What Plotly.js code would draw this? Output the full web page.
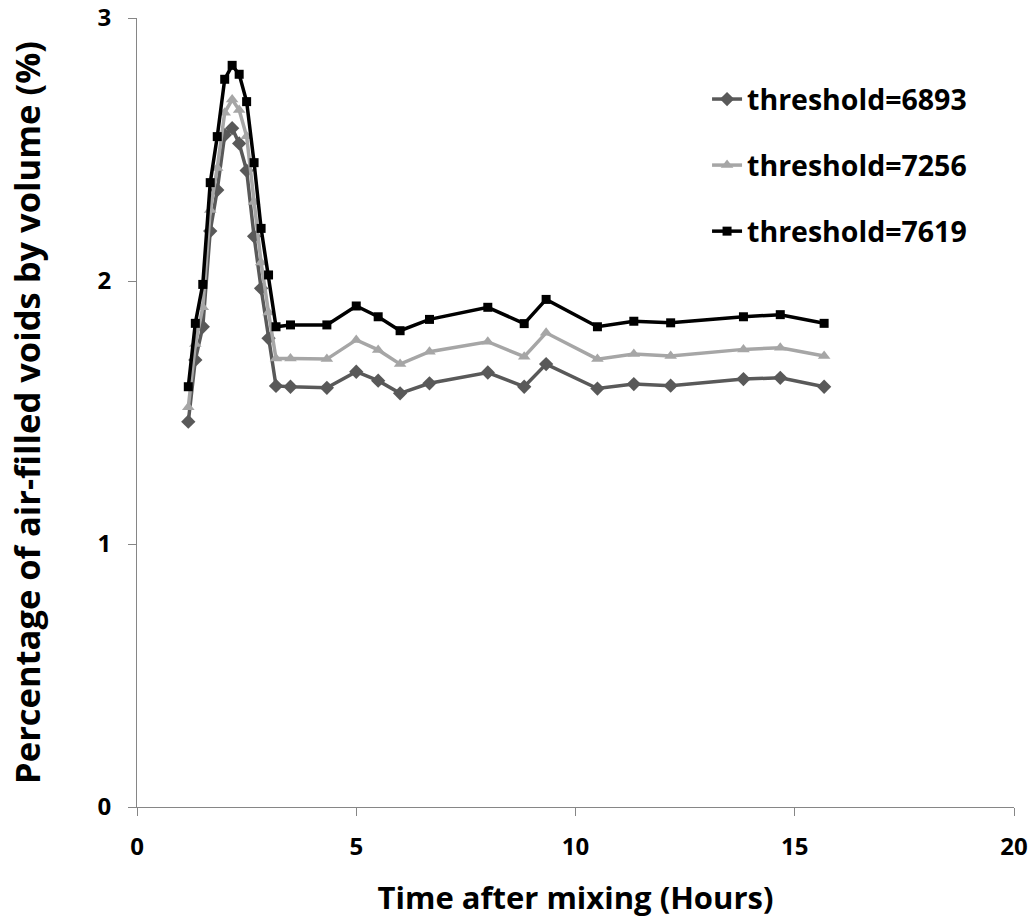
<!DOCTYPE html>
<html>
<head>
<meta charset="utf-8">
<script src="https://cdn.plot.ly/plotly-3.0.1.min.js"></script>
<style>html,body{margin:0;padding:0;background:#fff;}#chart{width:1034px;height:922px;}</style>
</head>
<body>
<div id="chart"></div>
<script>
const timeHours = [1.17, 1.33, 1.5, 1.67, 1.83, 2.0, 2.17, 2.33, 2.5, 2.67, 2.83, 3.0, 3.17, 3.5, 4.33, 5.0, 5.5, 6.0, 6.67, 8.0, 8.83, 9.33, 10.5, 11.33, 12.17, 13.83, 14.67, 15.67];
const thr6893 = [1.465, 1.70, 1.826, 2.19, 2.346, 2.555, 2.581, 2.523, 2.42, 2.17, 1.972, 1.782, 1.601, 1.598, 1.594, 1.655, 1.621, 1.573, 1.611, 1.652, 1.598, 1.684, 1.591, 1.608, 1.602, 1.627, 1.632, 1.598];
const thr7256 = [1.52, 1.76, 1.90, 2.27, 2.43, 2.64, 2.69, 2.65, 2.55, 2.30, 2.07, 1.88, 1.705, 1.705, 1.703, 1.776, 1.738, 1.684, 1.731, 1.769, 1.712, 1.803, 1.703, 1.722, 1.715, 1.740, 1.746, 1.715];
const thr7619 = [1.598, 1.839, 1.987, 2.374, 2.549, 2.767, 2.820, 2.786, 2.682, 2.45, 2.20, 2.023, 1.826, 1.833, 1.833, 1.905, 1.864, 1.811, 1.854, 1.900, 1.838, 1.930, 1.826, 1.847, 1.841, 1.864, 1.872, 1.839];
const seriesNames = ['threshold=6893', 'threshold=7256', 'threshold=7619'];
const xTicks = [0, 5, 10, 15, 20];
const yTicks = [0, 1, 2, 3];

const FONT = '"Open Sans", "DejaVu Sans", sans-serif';
const traces = [
  {x: timeHours, y: thr6893, name: seriesNames[0], legendgroup: 'a', mode: 'lines+markers',
   line: {color: '#595959', width: 3.5}, marker: {symbol: 'diamond', size: 11, color: '#595959'}},
  {x: timeHours, y: thr7256, name: seriesNames[1], legendgroup: 'b', mode: 'lines+markers',
   line: {color: '#A6A6A6', width: 3.5}, marker: {symbol: 'triangle-up', size: 11, color: '#A6A6A6'}},
  {x: timeHours, y: thr7619, name: seriesNames[2], legendgroup: 'c', mode: 'lines+markers',
   line: {color: '#000000', width: 3.5}, marker: {symbol: 'square', size: 9, color: '#000000'}}
];

const layout = {
  width: 1034, height: 922,
  margin: {l: 137, r: 20, t: 18, b: 115},
  paper_bgcolor: '#fff', plot_bgcolor: '#fff',
  showlegend: true,
  legend: {x: 0.65, y: 0.929, xanchor: 'left', yanchor: 'top', tracegroupgap: 26,
    font: {family: FONT, size: 28.5, color: '#000', weight: 'bold'}, bgcolor: 'rgba(0,0,0,0)'},
  xaxis: {range: [0, 20], tickvals: xTicks, ticktext: xTicks.map(String), showgrid: false, zeroline: false,
    showline: true, linecolor: '#868686', linewidth: 1, ticks: 'outside', ticklen: 8, tickcolor: '#868686',
    ticklabelstandoff: 10,
    tickfont: {family: FONT, size: 24, color: '#000', weight: 'bold'},
    title: {text: 'Time after mixing (Hours)', font: {family: FONT, size: 31, color: '#000', weight: 'bold'}, standoff: 26}},
  yaxis: {range: [0, 3], tickvals: yTicks, ticktext: yTicks.map(String), showgrid: false, zeroline: false,
    showline: true, linecolor: '#868686', linewidth: 1, ticks: 'outside', ticklen: 8, tickcolor: '#868686',
    ticklabelstandoff: 12,
    tickfont: {family: FONT, size: 24, color: '#000', weight: 'bold'},
    title: {text: 'Percentage of air-filled voids by volume (%)', font: {family: FONT, size: 34.5, color: '#000', weight: 'bold'}, standoff: 46}}
};

Plotly.newPlot('chart', traces, layout, {displayModeBar: false, staticPlot: true});
</script>
</body>
</html>
